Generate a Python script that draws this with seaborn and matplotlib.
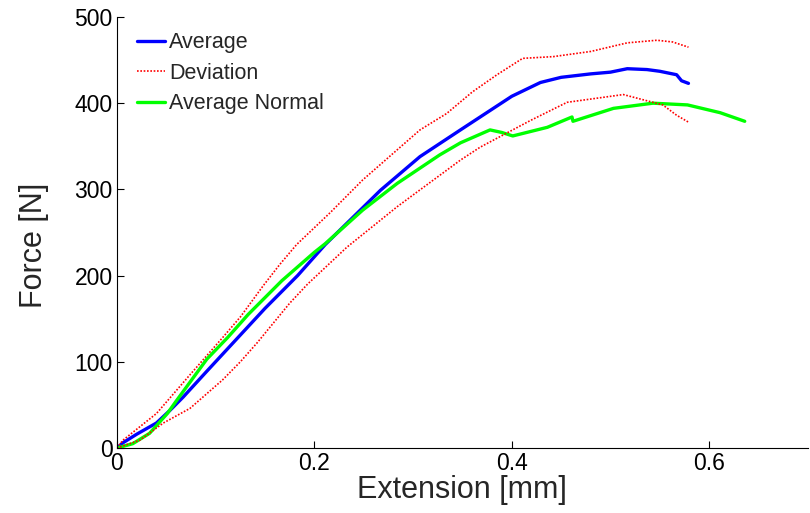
import numpy as np
import pandas as pd
import matplotlib
matplotlib.use("Agg")
import matplotlib.pyplot as plt
import seaborn as sns

# Data
avg_x = [0.0, 0.006, 0.02, 0.04, 0.054, 0.067, 0.091, 0.112, 0.15, 0.183, 0.211, 0.267,
         0.307, 0.348, 0.4, 0.429, 0.45, 0.48, 0.5, 0.517, 0.537, 0.55, 0.567, 0.572, 0.579]
avg_y = [0, 6, 16, 29, 44, 59, 89, 115, 162, 200, 236, 299,
         338, 369, 408, 424, 430, 434, 436, 440, 439, 437, 433, 426, 423]

up_x = [0.0, 0.006, 0.04, 0.074, 0.107, 0.125, 0.148, 0.165, 0.182, 0.216, 0.249, 0.284,
        0.307, 0.334, 0.36, 0.385, 0.411, 0.442, 0.48, 0.517, 0.547, 0.563, 0.579]
up_y = [0, 9, 40, 85, 128, 152, 188, 213, 236, 273, 311, 346,
        369, 388, 413, 433, 452, 454, 460, 470, 473, 471, 465]

lo_x = [0.0, 0.023, 0.047, 0.074, 0.107, 0.125, 0.142, 0.175, 0.193, 0.233, 0.284, 0.297,
        0.348, 0.368, 0.419, 0.456, 0.513, 0.533, 0.553, 0.567, 0.579]
lo_y = [0, 9, 29, 46, 79, 100, 122, 168, 190, 233, 280, 291,
        334, 349, 380, 401, 410, 404, 398, 386, 378]

nrm_x = [0.0, 0.016, 0.033, 0.051, 0.061, 0.091, 0.112, 0.133, 0.167, 0.2, 0.211, 0.249, 0.284,
         0.327, 0.348, 0.378, 0.39, 0.401, 0.436, 0.461, 0.462, 0.503, 0.543, 0.578, 0.611, 0.636]
nrm_y = [0, 5, 17, 40, 56, 103, 128, 155, 194, 227, 237, 276, 307,
         340, 354, 369, 366, 362, 372, 384, 379, 394, 400, 398, 389, 379]

sns.set_style("ticks")
plt.rcParams['font.family'] = ['Liberation Sans', 'DejaVu Sans']

fig = plt.figure(figsize=(8.1, 5.13), dpi=100)
ax = fig.add_axes([0.1444, 0.1267, 0.853, 0.8402])

dot = (0, (1, 1))
sns.lineplot(x=avg_x, y=avg_y, ax=ax, color="#0000ff", linewidth=2.4, label="Average", sort=False)
sns.lineplot(x=up_x, y=up_y, ax=ax, color="#ff0000", linewidth=1.2, linestyle=dot, label="Deviation", sort=False)
sns.lineplot(x=nrm_x, y=nrm_y, ax=ax, color="#00ff00", linewidth=2.4, label="Average Normal", sort=False)
sns.lineplot(x=lo_x, y=lo_y, ax=ax, color="#ff0000", linewidth=1.2, linestyle=dot, sort=False)

ax.set_xlim(0, 0.7)
ax.set_ylim(0, 500)
ax.set_xticks([0, 0.2, 0.4, 0.6])
ax.set_xticklabels(["0", "0.2", "0.4", "0.6"])
ax.set_yticks([0, 100, 200, 300, 400, 500])
ax.tick_params(direction="in", length=5, labelsize=16.5, colors="black", width=0.8, pad=3)
ax.set_xlabel("Extension [mm]", fontsize=22, labelpad=0)
ax.set_ylabel("Force [N]", fontsize=22)
ax.yaxis.set_label_coords(-0.098, 0.47)
for s in ["top", "right"]:
    ax.spines[s].set_visible(False)
for s in ["left", "bottom"]:
    ax.spines[s].set_color("black")
    ax.spines[s].set_linewidth(0.8)

ax.legend(loc="upper left", frameon=False, fontsize=15.5, handlelength=1.3,
          handletextpad=0.2, labelspacing=0.45, borderaxespad=0, borderpad=0,
          bbox_to_anchor=(0.029, 0.965))

fig.savefig("out.png", dpi=100)
